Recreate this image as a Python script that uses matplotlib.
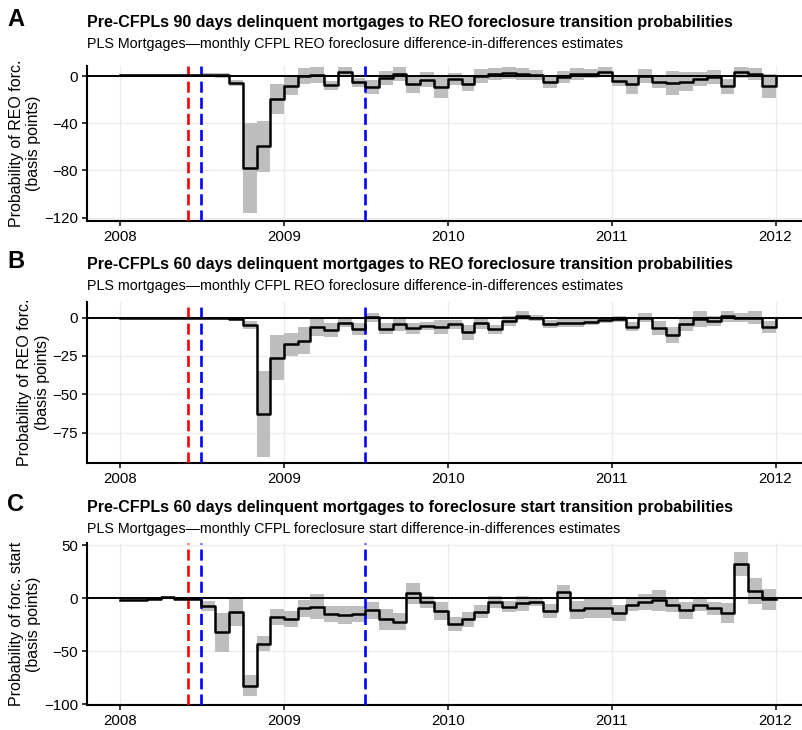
import numpy as np
import pandas as pd
import matplotlib
matplotlib.use('Agg')
import matplotlib.pyplot as plt

plt.rcParams['font.family'] = ['Liberation Sans', 'DejaVu Sans']

# monthly estimates Jan 2008 .. Jan 2012 (basis points) and half-width of the band
reo90_est = [0.5, 0.5, 0.5, 0.5, 0.8, 0.8, 0.8, 0.5, -6, -78, -59.4, -19.6, -8.2, 0, 1, -8,
             3.7, -5.4, -9.4, -1.4, 2, -7, -3, -9.4, -2.6, -7, 0, 1.4, 2.5, 1.4, 1, -5.4,
             -1, 2, 2, 3.7, -4.3, -7, 0, -5.4, -6, -4.8, -2.6, -1, -8.8, 3, 2, -8.2, 0]
reo90_hw = [1, 1, 1, 1, 1, 1, 1.5, 2, 2.5, 38, 21.6, 12.5, 7.7, 7, 7, 4,
            4, 4, 6, 6, 6, 7, 6, 9, 5, 6, 6, 5, 5, 5, 4, 5,
            5, 5, 4, 4, 4, 8, 6, 5, 10, 8, 6, 6, 6, 5, 5, 10, 0]

reo60_est = [-0.2, -0.2, -0.2, -0.3, -0.3, -0.3, -0.3, -0.4, -0.6, -5, -62.6, -26, -17.4, -15, -5.9, -8,
             -3.7, -7.2, 0.2, -7.2, -4, -7, -5.4, -6.3, -4.3, -9.6, -3.7, -7.6, -2.2, 1.3, -0.4, -4.3,
             -3.5, -3.5, -3, -1.7, -0.9, -5.9, 0, -7, -11.3, -4.3, -0.9, -2.2, 0.9, 0, 0, -6, 0]
reo60_hw = [0.8, 0.8, 0.8, 0.8, 0.8, 0.8, 0.8, 0.8, 1, 2.5, 28, 14.5, 7.5, 9, 6, 4.5,
            2.5, 4, 3, 3.5, 4.5, 3.5, 2.5, 4.5, 3, 5, 3.5, 3, 3, 3, 2, 2.7,
            2.5, 2.5, 2, 2, 2, 3, 3, 4.5, 5.2, 4.3, 5.5, 3, 3.5, 3, 4.3, 3.7, 0]

fstart_est = [-1.5, -1.2, -0.5, 0.8, -0.5, -0.5, -7.1, -32, -12.7, -82.6, -42.9, -18, -19.6, -9.6, -7.8, -14.9,
              -15.8, -14.9, -11.2, -20, -22, 4.7, -3.4, -11.8, -24.2, -20, -12.7, -3.4, -7.8, -4.7, -3.1, -12,
              6.2, -10.9, -9.6, -9.6, -14, -5.9, -3.4, -1.9, -5.9, -11.5, -5.9, -9.6, -14, 32.6, 6.8, -0.9, -0.9]
fstart_hw = [1.5, 1.5, 1, 1, 1, 1, 4.5, 18.5, 13.5, 10, 7, 7.5, 7.5, 8, 11.5, 7.5,
             8.5, 7.5, 8, 10, 8, 10, 6, 8.5, 7, 7.5, 6, 6, 5.5, 7, 4, 6.5,
             6, 8.5, 9, 9, 7.5, 6.5, 7.5, 10, 7, 8, 6.5, 6, 9.5, 11.5, 12.5, 10, 0]

event_dates = ['2008-06-01', '2008-07-01', '2009-07-01']
event_colors = ['#ff0000', '#0000ff', '#0000ff']

panels = [
    dict(letter='A', est=reo90_est, hw=reo90_hw,
         title='Pre-CFPLs 90 days delinquent mortgages to REO foreclosure transition probabilities',
         subtitle='PLS Mortgages\u2014monthly CFPL REO foreclosure difference-in-differences estimates',
         ylabel='Probability of REO forc.\n(basis points)', yticks=[0, -40, -80, -120],
         ylim=(-122.8, 8.5), box=(66, 221), head=8),
    dict(letter='B', est=reo60_est, hw=reo60_hw,
         title='Pre-CFPLs 60 days delinquent mortgages to REO foreclosure transition probabilities',
         subtitle='PLS mortgages\u2014monthly CFPL REO foreclosure difference-in-differences estimates',
         ylabel='Probability of REO forc.\n(basis points)', yticks=[0, -25, -50, -75],
         ylim=(-95, 10.4), box=(301.7, 463.3), head=250),
    dict(letter='C', est=fstart_est, hw=fstart_hw,
         title='Pre-CFPLs 60 days delinquent mortgages to foreclosure start transition probabilities',
         subtitle='PLS Mortgages\u2014monthly CFPL foreclosure start difference-in-differences estimates',
         ylabel='Probability of forc. start\n(basis points)', yticks=[50, 0, -50, -100],
         ylim=(-100.7, 51.9), box=(543.3, 705), head=493),
]


def dec_year(d):
    d = pd.to_datetime(d)
    n = 366 if d.is_leap_year else 365
    return d.year + (d.dayofyear - 1) / n


months = [dec_year(d) for d in pd.date_range('2008-01-01', '2012-01-01', freq='MS')]
events = [dec_year(d) for d in event_dates]

W, H = 803, 730
fig = plt.figure(figsize=(W / 100, H / 100), dpi=100)

left_px = 87.2
right_px = 808.3

for p in panels:
    top, bot = p['box']
    ax = fig.add_axes([left_px / W, 1 - bot / H, (right_px - left_px) / W, (bot - top) / H])
    est = np.array(p['est'])
    hw = np.array(p['hw'])
    ax.fill_between(months, est - hw, est + hw, step='post', color='#bebebe', lw=0, zorder=1)
    ax.axhline(0, color='black', lw=1.4, zorder=2)
    for xe, c in zip(events, event_colors):
        ax.axvline(xe, color=c, lw=1.9, ls=(0, (4.2, 1.9)), zorder=3)
    ax.step(months, est, where='post', color='black', lw=1.8, zorder=4)

    ax.set_xlim(2007.8, 2012.2)
    ax.set_ylim(*p['ylim'])
    ax.set_xticks([2008, 2009, 2010, 2011, 2012])
    ax.set_xticklabels(['2008', '2009', '2010', '2011', '2012'])
    ax.set_yticks(p['yticks'])
    ax.grid(True, color='#ebebeb', lw=0.9, zorder=0)
    ax.set_axisbelow(True)
    for s in ['top', 'right']:
        ax.spines[s].set_visible(False)
    for s in ['left', 'bottom']:
        ax.spines[s].set_linewidth(1.5)
    ax.tick_params(length=3.5, width=1.1, labelsize=10.8, pad=3, colors='black')
    ax.set_ylabel(p['ylabel'], fontsize=11.5, labelpad=2, linespacing=1.2)

    h = p['head']
    fig.text(7 / W, 1 - h / H, p['letter'], fontsize=17, fontweight='bold', va='top', ha='left')
    fig.text(left_px / W, 1 - (h + 7) / H, p['title'], fontsize=11.55, fontweight='bold', va='top', ha='left')
    fig.text(left_px / W, 1 - (h + 29) / H, p['subtitle'], fontsize=10.3, va='top', ha='left')

fig.savefig('out.png', dpi=100)
